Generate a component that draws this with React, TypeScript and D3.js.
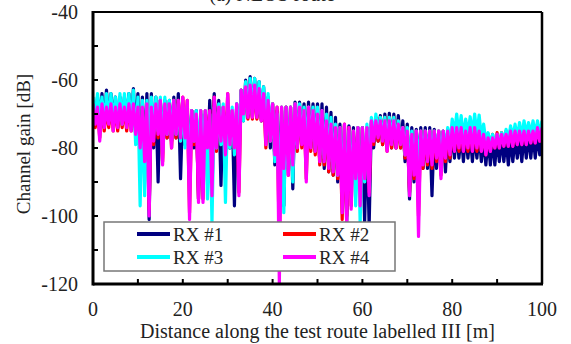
import React, { useRef, useEffect } from "react";
import * as d3 from "d3";

const WIDTH = 571;
const HEIGHT = 344;

// channel gain [dB] every 0.5 m
// (local peak at whole metres, trough at the half metre between)
const rx1 = [
  -66, -73, -65, -72, -64, -74, -63, -73, -64, -72, -65, -74, -65, -73, -65, -72, -64, -74, -62.5, -75,
  -64, -84, -65, -85, -64, -101, -64, -80, -65, -90, -66, -78, -66, -77, -66, -78, -65, -77, -64, -89,
  -68, -79, -69, -82, -69, -80, -69, -95, -70, -82, -70, -84, -66, -80, -64, -80, -66, -91, -68, -82,
  -68, -80, -69, -97, -67, -80, -63, -72, -60, -71, -59, -71, -59.5, -71, -60.5, -72, -62, -76, -65, -80,
  -67, -85, -69, -90, -69, -97, -68, -86, -68, -92, -66.5, -80, -66.5, -79, -67, -80, -66.5, -80, -67, -81,
  -67, -84, -67, -86, -68, -87, -69.5, -88, -71, -90, -73, -94, -73.5, -102, -73.5, -93, -74, -92, -74, -90,
  -74, -102, -74, -103, -72.5, -80, -71, -78, -70.5, -79, -70, -79, -69.8, -80, -70, -80, -70.5, -80, -72, -84,
  -73, -95, -74, -90, -74.5, -86, -74, -86, -74, -86, -74, -94, -74.5, -86, -75, -85, -75, -87, -74.5, -84,
  -75, -83, -75, -83, -75.5, -84, -75.5, -83, -76, -84, -76, -83, -76, -84, -77, -85, -77, -85, -77, -85,
  -77, -84, -77, -84, -77, -85, -77, -84, -77, -83, -76.5, -84, -76, -83, -76, -83, -76, -83, -76, -82,
  -76,
];

const rx2 = [
  -67, -74, -68, -77, -67, -75, -68, -74, -67, -75, -68, -75, -67, -74, -68, -75, -67, -75, -67, -76,
  -68, -81, -68, -83, -67, -98, -68, -79, -67, -77, -66, -84, -67, -77, -67, -80, -66, -77, -66, -78,
  -65, -78, -66, -99, -69, -79, -70, -95, -69, -95, -69, -81, -69, -93, -65, -81, -68, -79, -68, -82,
  -64, -80, -69, -81, -68, -93, -63, -71, -62, -71.5, -61.5, -71.5, -61.5, -71.5, -62.5, -72, -64, -80, -66, -78,
  -67, -83, -68, -110, -68, -87, -68, -88, -68, -86, -67, -81, -68, -80, -69, -89, -68, -81, -69, -82,
  -70, -85, -69, -85, -72, -87, -73, -88, -74, -89, -74, -101, -73, -100, -74, -97, -75, -90, -74, -96,
  -74, -90, -74, -93, -72, -79, -71, -78, -71, -79, -71, -81, -71, -80, -71, -80, -72, -80, -74, -83,
  -75, -93, -76, -89, -75, -100, -75, -86, -75, -85, -75, -86, -75, -84, -75, -88, -75, -84, -75, -83,
  -74, -81, -74, -81, -74, -81, -74.5, -81, -74, -81, -74, -81, -74.5, -81, -75, -82, -76, -81, -76, -80,
  -75.5, -80, -75.5, -79.5, -75, -79.5, -74.5, -79.5, -74.5, -79, -74, -79, -74, -79, -74, -78.5, -74, -78.5, -73.5, -78,
  -73.5,
];

const rx3 = [
  -65, -72, -64, -71, -65, -73, -64, -72, -64, -73, -65, -72, -64, -73, -64, -72, -64, -74, -63, -79,
  -65, -97, -66, -94, -66, -80, -65, -76, -65, -75, -65, -81, -65, -76, -66, -77, -66, -76, -67, -78,
  -68, -80, -68, -86, -69, -78, -69, -82, -69, -80, -69, -95, -70, -102, -68, -80, -67, -79, -67, -96,
  -67, -80, -68, -82, -67, -78, -63, -72, -60.5, -70, -59.5, -70, -59.5, -70, -60.5, -71, -62, -74, -64, -78,
  -67, -84, -70, -100, -68, -99, -68, -86, -68, -90, -67, -79, -67, -78, -68, -79, -68, -78, -68, -80,
  -68, -82, -69, -83, -70, -84, -71, -86, -73, -88, -74, -92, -74, -95, -75, -90, -75, -97, -74, -102,
  -74, -90, -73, -86, -71, -77, -70, -76, -71, -77, -71, -78, -71, -77, -71, -78, -72, -78, -74, -82,
  -74, -90, -75, -86, -75, -84, -75, -82, -75, -82, -75, -82, -75, -81, -75, -82, -75, -80, -74, -79,
  -71.5, -76, -70, -76, -70.5, -77, -71.5, -76, -70.8, -76, -70, -76, -70.3, -77, -73, -78, -75.5, -79, -76, -79,
  -76, -79, -75.5, -78, -74.5, -78, -73.5, -77, -73, -77, -72.5, -77, -72, -76, -72.5, -76, -72, -76, -72, -76,
  -72,
];

const rx4 = [
  -67, -73, -68, -78, -67, -74, -68, -73, -67, -75, -68, -74, -67, -73, -68, -74, -67, -75, -67, -76,
  -68, -80, -68, -84, -67, -100, -68, -78, -67, -76, -66, -85, -67, -76, -67, -80, -66, -76, -66, -77,
  -65, -77, -66, -101, -69, -78, -70, -96, -69, -96, -69, -80, -69, -94, -65, -80, -68, -78, -68, -82,
  -64, -79, -69, -80, -67, -94, -63, -70, -62, -71, -61.5, -71, -61.5, -71, -62.5, -72, -64, -79, -66, -78,
  -67, -82, -68, -120, -68, -86, -68, -88, -68, -85, -67, -80, -68, -79, -69, -90, -68, -80, -69, -81,
  -70, -84, -69, -84, -72, -86, -73, -87, -74, -88, -74, -99, -73, -102, -74, -98, -75, -89, -74, -97,
  -74, -89, -74, -94, -72, -78, -72, -77, -72, -78, -72, -81, -72, -79, -72, -80, -73, -79, -74, -82,
  -75, -94, -76, -88, -75, -106, -75, -85, -75, -84, -75, -85, -75, -83, -75, -89, -75, -83, -75, -82,
  -74, -81, -74, -80, -74, -81, -75, -80, -74, -81, -74, -80, -75, -81, -76, -82, -77, -81, -77, -80,
  -76, -80, -76, -79.5, -76, -79.5, -75, -79.5, -75, -79, -75, -79, -75, -79, -75, -78.5, -75, -78.5, -74, -78,
  -74,
];

const seriesNames = ["RX #1", "RX #2", "RX #3", "RX #4"];
const seriesValues = [rx1, rx2, rx3, rx4];
const seriesColors = ["#000080", "#ff0000", "#00ffff", "#ff00ff"];

const xTickLabels = [0, 20, 40, 60, 80, 100];
const yTickLabels = [-40, -60, -80, -100, -120];

const App = () => {
  const svgRef = useRef<SVGSVGElement>(null);

  useEffect(() => {
    const svg = d3.select(svgRef.current);
    svg.selectAll("*").remove();

    const margin = { top: 12, right: 29, bottom: 60, left: 93 };
    const innerRight = WIDTH - margin.right;
    const innerBottom = HEIGHT - margin.bottom;

    const x = d3.scaleLinear().domain([0, 100]).range([margin.left, innerRight]);
    const y = d3.scaleLinear().domain([-120, -40]).range([innerBottom, margin.top]);

    const serif = "'Liberation Serif', 'Times New Roman', serif";

    svg
      .append("defs")
      .append("clipPath")
      .attr("id", "plot-clip")
      .append("rect")
      .attr("x", margin.left)
      .attr("y", margin.top)
      .attr("width", innerRight - margin.left)
      .attr("height", innerBottom - margin.top);

    // data
    const line = d3
      .line<number>()
      .x((_, i) => x(i * 0.5))
      .y((d) => y(d));

    const plot = svg.append("g").attr("clip-path", "url(#plot-clip)");
    seriesValues.forEach((vals, i) => {
      plot
        .append("path")
        .attr("d", line(vals))
        .attr("fill", "none")
        .attr("stroke", seriesColors[i])
        .attr("stroke-width", 3.2)
        .attr("stroke-linejoin", "round");
    });

    // ticks (inward)
    const ticks = svg.append("g").attr("stroke", "#000").attr("stroke-width", 2);
    d3.range(-110, -40, 10).forEach((v) => {
      ticks
        .append("line")
        .attr("x1", margin.left)
        .attr("x2", margin.left + 5)
        .attr("y1", y(v))
        .attr("y2", y(v));
    });
    d3.range(10, 100, 10).forEach((v) => {
      ticks
        .append("line")
        .attr("x1", x(v))
        .attr("x2", x(v))
        .attr("y1", innerBottom)
        .attr("y2", innerBottom - 5);
    });

    // frame
    const frame = svg.append("g").attr("stroke", "#000");
    frame
      .append("line")
      .attr("x1", margin.left)
      .attr("x2", innerRight)
      .attr("y1", margin.top)
      .attr("y2", margin.top)
      .attr("stroke-width", 2);
    frame
      .append("line")
      .attr("x1", innerRight)
      .attr("x2", innerRight)
      .attr("y1", margin.top)
      .attr("y2", innerBottom)
      .attr("stroke-width", 2.5);
    frame
      .append("line")
      .attr("x1", margin.left)
      .attr("x2", margin.left)
      .attr("y1", margin.top - 1)
      .attr("y2", innerBottom + 1.5)
      .attr("stroke-width", 3);
    frame
      .append("line")
      .attr("x1", margin.left)
      .attr("x2", innerRight + 1)
      .attr("y1", innerBottom)
      .attr("y2", innerBottom)
      .attr("stroke-width", 3);

    // tick labels
    yTickLabels.forEach((v) => {
      svg
        .append("text")
        .attr("x", margin.left - 15)
        .attr("y", y(v))
        .attr("dy", "0.35em")
        .attr("text-anchor", "end")
        .style("font-family", serif)
        .style("font-size", "20px")
        .attr("fill", "#222")
        .text(`${v}`);
    });
    xTickLabels.forEach((v) => {
      svg
        .append("text")
        .attr("x", x(v))
        .attr("y", 316)
        .attr("text-anchor", "middle")
        .style("font-family", serif)
        .style("font-size", "20px")
        .attr("fill", "#222")
        .text(`${v}`);
    });

    // axis titles
    svg
      .append("text")
      .attr("x", (margin.left + innerRight) / 2)
      .attr("y", 338)
      .attr("text-anchor", "middle")
      .style("font-family", serif)
      .style("font-size", "20px")
      .attr("fill", "#222")
      .text("Distance along the test route labelled III [m]");

    svg
      .append("text")
      .attr("transform", `translate(30, ${(margin.top + innerBottom) / 2 - 4}) rotate(-90)`)
      .attr("text-anchor", "middle")
      .style("font-family", serif)
      .style("font-size", "19px")
      .attr("fill", "#222")
      .text("Channel gain [dB]");

    // title, almost entirely above the top edge
    svg
      .append("text")
      .attr("x", 272)
      .attr("y", 0.5)
      .attr("text-anchor", "middle")
      .style("font-family", serif)
      .style("font-size", "20px")
      .attr("fill", "#222")
      .text("(a) NLOS route");

    // legend
    const legend = svg.append("g");
    legend
      .append("rect")
      .attr("x", 104)
      .attr("y", 222)
      .attr("width", 291)
      .attr("height", 49)
      .attr("fill", "#fff")
      .attr("stroke", "#777")
      .attr("stroke-width", 1.5);

    seriesNames.forEach((name, i) => {
      const col = i % 2;
      const row = Math.floor(i / 2);
      const lx = 137 + col * 146;
      const ly = 234 + row * 23;
      legend
        .append("line")
        .attr("x1", lx)
        .attr("x2", lx + 33)
        .attr("y1", ly)
        .attr("y2", ly)
        .attr("stroke", seriesColors[i])
        .attr("stroke-width", 4);
      legend
        .append("text")
        .attr("x", lx + 36)
        .attr("y", ly + 7)
        .style("font-family", serif)
        .style("font-size", "19px")
        .attr("fill", "#222")
        .text(name);
    });
  }, []);

  return (
    <svg
      ref={svgRef}
      width={WIDTH}
      height={HEIGHT}
      style={{ position: "absolute", left: 0, top: 0, background: "#fff" }}
    ></svg>
  );
};

export default App;
